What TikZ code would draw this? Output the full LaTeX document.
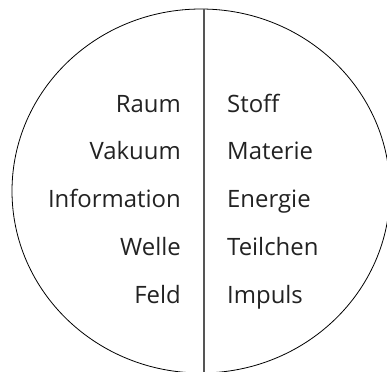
\documentclass[tikz,border=0pt]{standalone}
\usepackage{fontspec}
\setmainfont{Open Sans}
\definecolor{divgray}{HTML}{555555}
\definecolor{txtgray}{HTML}{222222}
\begin{document}
\begin{tikzpicture}[x=1bp,y=-1bp,every node/.style={font=\fontsize{24}{24}\selectfont,text=txtgray,inner sep=0pt},lft/.style={anchor=base east},rgt/.style={anchor=base west}]
                \useasboundingbox (0,0) rectangle (387,372);
                \draw[line width=0.8pt] (201,191) ellipse [x radius=189,y radius=182];
                \coordinate (top) at (204,9);
                \coordinate (bot) at (204,372);
                \draw[divgray,line width=1.1pt] (top) -- (bot);
                \foreach \w [count=\j from 0] in {Raum,Vakuum,Information,Welle,Feld} \node[lft] (l\j) at (181,112+47.8*\j) {\w};
                \foreach \w [count=\j from 0] in {Stoff,Materie,Energie,Teilchen,Impuls} \node[rgt] (r\j) at (227,112+47.8*\j) {\w};
            \end{tikzpicture}
\end{document}
